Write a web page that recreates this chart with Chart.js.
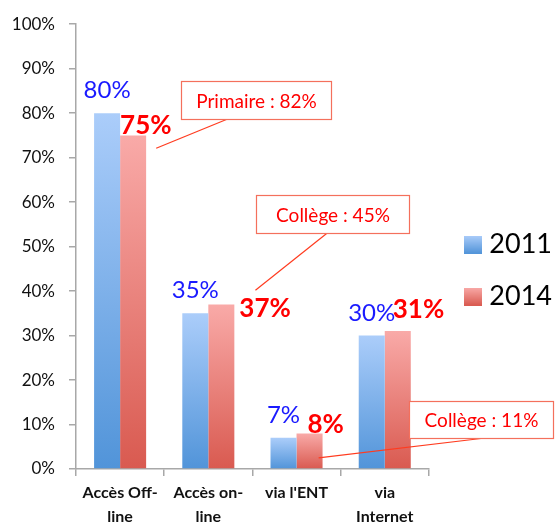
<!DOCTYPE html>
<html>
<head>
<meta charset="utf-8">
<script src="https://cdn.jsdelivr.net/npm/chart.js@4/dist/chart.umd.min.js"></script>
<style>
html,body{margin:0;padding:0;background:#fff}
#wrap{width:555px;height:523px}
</style>
</head>
<body>
<div id="wrap"><canvas id="chart" width="555" height="523"></canvas></div>
<script>

/* ---------- DATA ---------- */

const categories = [["Accès Off-","line"],["Accès on-","line"],"via l'ENT",["via","Internet"]];
const seriesNames = ["2011","2014"];
const values2011 = [80,35,7,30];
const values2014 = [75,37,8,31];
const yMax = 100;
const yStep = 10;
const calloutTexts = ["Primaire : 82%","Collège : 45%","Collège : 11%"];


/* ---------- COLOURS ---------- */

const blueTop = "#abcdfa", blueBottom = "#5194d9";
const redTop = "#f9aaa8", redBottom = "#d95a50";
const axisGrey = "#a8a8a8";
const FONT = "Lato, 'Open Sans', sans-serif";


/* ---------- BAR GRADIENT (one per bar) ---------- */

function barGradient(top,bottom){

return function(c){
const chart = c.chart
if(!chart.chartArea || c.dataIndex === undefined) return bottom
const y = chart.scales.y
const y0 = y.getPixelForValue(c.dataset.data[c.dataIndex])
const y1 = y.getPixelForValue(0)
const g = chart.ctx.createLinearGradient(0,y0,0,y1)
g.addColorStop(0,top)
g.addColorStop(1,bottom)
return g
}

}

function legendSwatch(top,bottom){

const cv = document.createElement("canvas")
cv.width = 18; cv.height = 18
const x = cv.getContext("2d")
const g = x.createLinearGradient(0,0,0,18)
g.addColorStop(0,top)
g.addColorStop(1,bottom)
x.fillStyle = g
x.fillRect(0,0,18,18)
return cv

}


/* ---------- VALUE LABELS + CALLOUTS ---------- */

const labelPlugin = {
id:"labels",

afterLayout(chart){
/* keep the legend a fixed distance right of the plot */
const lg = chart.legend
const w = lg.width
lg.left = chart.chartArea.right + 16
lg.right = lg.left + w
},

afterDatasetsDraw(chart){

const ctx = chart.ctx
const xs = chart.scales.x, ys = chart.scales.y
const catW = xs.width / categories.length

/* 2011: centred above the bar */
const m0 = chart.getDatasetMeta(0)
ctx.save()
ctx.font = "24px " + FONT
ctx.fillStyle = "#1a1aff"
ctx.textAlign = "center"
ctx.textBaseline = "alphabetic"
m0.data.forEach((bar,i)=>{
ctx.fillText(values2011[i]+"%", bar.x, bar.y-15)
})

/* 2014: bold, placed next to the bar top */
const redShift = [[0,-1],[31,13],[11,0],[8,-13]]
const m1 = chart.getDatasetMeta(1)
ctx.font = "bold 26px " + FONT
ctx.fillStyle = "#ff0000"
ctx.textAlign = "left"
m1.data.forEach((bar,i)=>{
ctx.fillText(values2014[i]+"%", bar.x-bar.width/2+redShift[i][0], bar.y+redShift[i][1])
})

/* callouts: box in (category units, value), pointer from box to bar */
const boxes = [
{l:1.193,r:2.886,t:87.3,b:78.6,from:1.705,to:[0.909,72.1]},
{l:2.045,r:3.773,t:61.6,b:53.1,from:2.841,to:[2.034,40.2]},
{l:3.773,r:5.409,t:15.4,b:6.9,from:4.591,to:[2.75,2.5]}
]
const px = u => xs.left + u*catW
ctx.lineWidth = 1.2
boxes.forEach((b,i)=>{
const L = Math.round(px(b.l))+0.5, R = Math.round(px(b.r))+0.5
const T = Math.round(ys.getPixelForValue(b.t))+0.5, B = Math.round(ys.getPixelForValue(b.b))+0.5
ctx.strokeStyle = "#ff3b1f"
ctx.beginPath()
ctx.moveTo(px(b.from),B)
ctx.lineTo(px(b.to[0]),ys.getPixelForValue(b.to[1]))
ctx.stroke()
ctx.fillStyle = "#ffffff"
ctx.fillRect(L,T,R-L,B-T)
ctx.strokeStyle = "#f4705c"
ctx.strokeRect(L,T,R-L,B-T)
ctx.fillStyle = "#ff0000"
ctx.font = "19px " + FONT
ctx.textAlign = "center"
ctx.textBaseline = "middle"
ctx.fillText(calloutTexts[i],(L+R)/2,(T+B)/2+1)
})
ctx.restore()

}
}


/* ---------- CHART ---------- */

const chart = new Chart(document.getElementById("chart").getContext("2d"),{

type:"bar",

data:{
labels:categories,
datasets:[
{label:seriesNames[0],data:values2011,backgroundColor:barGradient(blueTop,blueBottom)},
{label:seriesNames[1],data:values2014,backgroundColor:barGradient(redTop,redBottom)}
]
},

options:{
responsive:false,
animation:false,
events:[],
layout:{padding:{top:18,left:0,right:9,bottom:0}},
datasets:{bar:{categoryPercentage:0.59,barPercentage:1,borderWidth:0}},

plugins:{
tooltip:{enabled:false},
legend:{
position:"right",
align:"center",
labels:{
usePointStyle:true,
pointStyleWidth:6,
boxWidth:18,
boxHeight:18,
padding:25,
color:"#111",
font:{family:FONT,size:27},
generateLabels(){
return [
{text:seriesNames[0],pointStyle:legendSwatch(blueTop,blueBottom),datasetIndex:0,lineWidth:0},
{text:seriesNames[1],pointStyle:legendSwatch(redTop,redBottom),datasetIndex:1,lineWidth:0}
]
}
}
}
},

scales:{
x:{
afterFit(s){ s.height = 54 },
border:{color:axisGrey,width:1.5},
grid:{drawOnChartArea:false,tickLength:7,color:axisGrey,lineWidth:1.5},
ticks:{color:"#111",padding:5,maxRotation:0,font:{family:FONT,size:16,weight:"bold",lineHeight:1.5}}
},
y:{
min:0,
max:yMax,
afterFit(s){ s.width = 76 },
border:{color:axisGrey,width:1.5},
grid:{drawOnChartArea:false,tickLength:7,color:axisGrey,lineWidth:1.5},
ticks:{stepSize:yStep,color:"#111",padding:14,font:{family:FONT,size:17},callback:v=>v+"%"}
}
}
},

plugins:[labelPlugin]

})

</script>
</body>
</html>
